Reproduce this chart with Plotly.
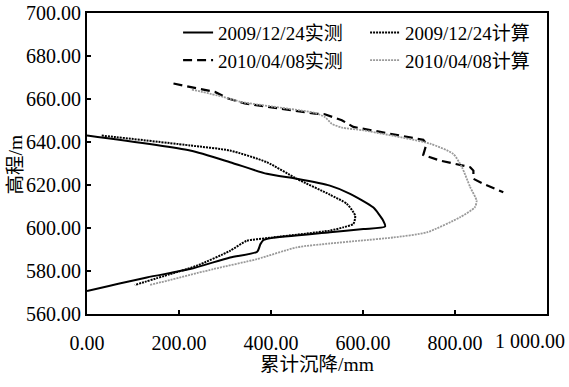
import plotly.graph_objects as go

# 2009/12/24 实测 (measured)
m2009_x = [0, 224, 311, 391, 456, 528, 572, 622, 644, 648, 601, 528, 400, 384, 377, 370, 311, 224, 130, 0]
m2009_y = [643, 636, 630.6, 625.2, 622.9, 619.7, 615.9, 609.6, 603.4, 600.7, 599.5, 598, 595.3, 594.4, 592.5, 589.0, 586.3, 580.9, 577, 570.7]

# 2009/12/24 计算 (calculated)
c2009_x = [32, 224, 311, 391, 456, 528, 565, 583, 579, 557, 528, 391, 347, 311, 238, 180, 104]
c2009_y = [643, 638.4, 636, 630.6, 622.9, 615.5, 611.2, 605.7, 601.9, 600.3, 598.8, 595.3, 594, 589.4, 582.4, 578.5, 573.5]

# 2010/04/08 实测 (measured)
m2010_x = [188, 278, 307, 343, 496, 517, 554, 579, 731, 738, 735, 731, 767, 833, 840, 840, 862, 905]
m2010_y = [667.2, 663.3, 660.2, 657.9, 653.2, 652.9, 650.1, 647, 641, 639.2, 636.9, 634, 631.4, 628.3, 626.7, 622.9, 620.5, 616.6]

# 2010/04/08 计算 (calculated)
c2010_x = [228, 296, 336, 496, 517, 532, 554, 601, 746, 796, 815, 833, 847, 843, 811, 739, 666, 593, 528, 456, 369, 275, 137]
c2010_y = [664.4, 661, 658.6, 653.5, 651.6, 648.5, 646.7, 645.4, 639.2, 634.5, 628.3, 619, 612.7, 609.6, 605, 598, 595.6, 594.1, 592.8, 591, 585.5, 580.9, 573.5]

x_ticks = [0, 200, 400, 600, 800, 1000]
x_tick_text = ["0.00", "200.00", "400.00", "600.00", "800.00", "1 000.00"]
y_ticks = [560, 580, 600, 620, 640, 660, 680, 700]
y_tick_text = ["560.00", "580.00", "600.00", "620.00", "640.00", "660.00", "680.00", "700.00"]

FONT = '"Liberation Serif", "Noto Sans CJK SC", serif'
TICK_SIZE = 20

fig = go.Figure()
fig.add_trace(go.Scatter(x=m2009_x, y=m2009_y, mode="lines", name="2009/12/24实测",
                         line=dict(color="black", width=2, shape="spline", smoothing=0.6)))
fig.add_trace(go.Scatter(x=c2009_x, y=c2009_y, mode="lines", name="2009/12/24计算",
                         line=dict(color="black", width=2, dash="2px,1px", shape="spline", smoothing=0.6)))
fig.add_trace(go.Scatter(x=m2010_x, y=m2010_y, mode="lines", name="2010/04/08实测",
                         line=dict(color="black", width=2.2, dash="9px,5px")))
fig.add_trace(go.Scatter(x=c2010_x, y=c2010_y, mode="lines", name="2010/04/08计算",
                         line=dict(color="#9a9a9a", width=1.8, dash="2px,1px", shape="spline", smoothing=0.6)))

axis_common = dict(
    showline=True, linecolor="black", linewidth=2, mirror=True,
    ticks="inside", ticklen=4, tickwidth=1.5, tickcolor="black",
    showgrid=False, zeroline=False, automargin=False,
    tickfont=dict(family=FONT, size=TICK_SIZE, color="black"),
)

# last x tick label is drawn as an annotation so it can be right-aligned inside the page
fig.update_xaxes(range=[0, 1000], tickvals=x_ticks, ticktext=x_tick_text[:-1] + [""],
                 title=dict(text="累计沉降/mm", font=dict(family=FONT, size=19.5, color="black"), standoff=4),
                 ticklabelstandoff=10, **axis_common)
fig.update_yaxes(range=[560, 700], tickvals=y_ticks, ticktext=y_tick_text, **axis_common)

fig.add_annotation(x=x_ticks[-1], xref="x", y=0, yref="paper", text=x_tick_text[-1],
                   showarrow=False, xanchor="right", yanchor="top", xshift=20, yshift=-14,
                   font=dict(family=FONT, size=TICK_SIZE, color="black"))
# y-axis title
fig.add_annotation(x=0, xref="paper", y=0.5, yref="paper", text="高程/m", textangle=-90,
                   showarrow=False, xanchor="center", yanchor="middle", xshift=-72, yshift=-1,
                   font=dict(family=FONT, size=19.5, color="black"))

fig.update_layout(
    width=569, height=387,
    margin=dict(l=87, r=22, t=13, b=73),
    paper_bgcolor="white", plot_bgcolor="white",
    font=dict(family=FONT, size=19, color="black"),
    legend=dict(orientation="h", x=0.198, y=0.998, xanchor="left", yanchor="top",
                entrywidth=142, entrywidthmode="pixels",
                bgcolor="rgba(255,255,255,0)", font=dict(family=FONT, size=19, color="black"),
                tracegroupgap=0, itemwidth=30),
)

fig.write_html("out.html", config={"displayModeBar": False},
               post_script="document.body.style.margin='0';")
